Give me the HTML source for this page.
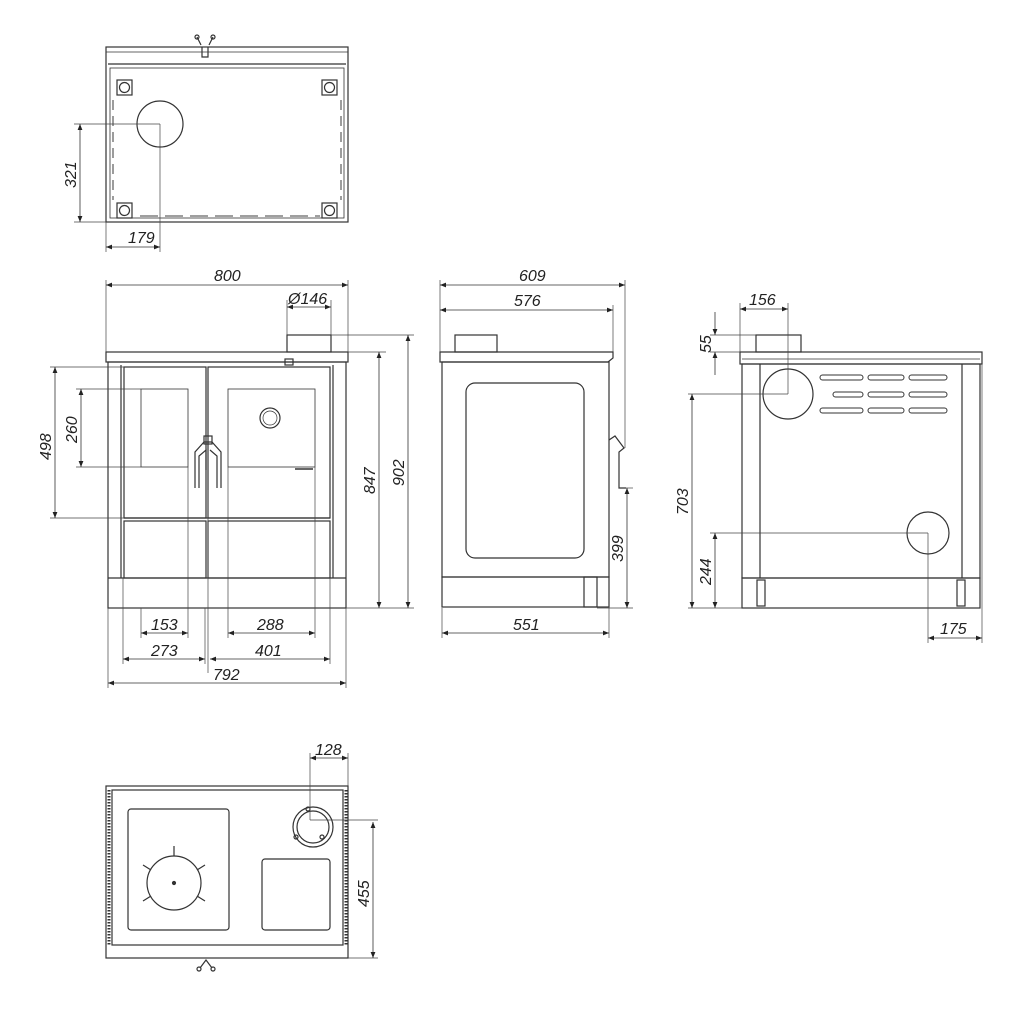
<!DOCTYPE html>
<html><head><meta charset="utf-8"><style>
html,body{margin:0;padding:0;background:#fff}
svg{display:block}
text{font-family:"Liberation Sans",sans-serif;font-style:italic;font-size:16px;fill:#222}
</style></head><body>
<svg width="1024" height="1013" viewBox="0 0 1024 1013" xmlns="http://www.w3.org/2000/svg">
<defs>
<marker id="a" viewBox="0 0 10 10" refX="10" refY="5" markerWidth="9" markerHeight="6" orient="auto-start-reverse" markerUnits="userSpaceOnUse"><path d="M0,1 L10,5 L0,9z" fill="#222"/></marker>
</defs>
<g fill="none" stroke="#333" stroke-width="1.2">
<!-- ===== TOP VIEW (upper) ===== -->
<rect x="106" y="47" width="242" height="175"/>
<line x1="106" y1="52" x2="348" y2="52" stroke-width="0.8"/>
<line x1="108" y1="64" x2="346" y2="64"/>
<rect x="110" y="68" width="234" height="150" stroke-width="0.8"/>
<line x1="113" y1="100" x2="113" y2="200" stroke-width="1.3" stroke="#666" stroke-dasharray="10 6"/>
<line x1="341" y1="100" x2="341" y2="200" stroke-width="1.3" stroke="#666" stroke-dasharray="10 6"/>
<line x1="140" y1="216" x2="320" y2="216" stroke-width="1.3" stroke="#666" stroke-dasharray="18 7"/>
<rect x="117" y="80" width="15" height="15"/><circle cx="124.5" cy="87.5" r="5"/>
<rect x="322" y="80" width="15" height="15"/><circle cx="329.5" cy="87.5" r="5"/>
<rect x="117" y="203" width="15" height="15"/><circle cx="124.5" cy="210.5" r="5"/>
<rect x="322" y="203" width="15" height="15"/><circle cx="329.5" cy="210.5" r="5"/>
<circle cx="160" cy="124" r="23"/>
<path d="M201,45 L197,37 M209,45 L213,37" /><circle cx="197" cy="37" r="2"/><circle cx="213" cy="37" r="2"/>
<path d="M202,47 v10 h6 v-10"/>
<g stroke-width="0.7" stroke="#444">
<line x1="74" y1="124" x2="160" y2="124"/><line x1="74" y1="222" x2="106" y2="222"/>
<line x1="160" y1="124" x2="160" y2="252"/><line x1="106" y1="222" x2="106" y2="252"/>
</g>
<line x1="80" y1="124" x2="80" y2="222" marker-start="url(#a)" marker-end="url(#a)" stroke-width="0.8"/>
<line x1="106" y1="247" x2="160" y2="247" marker-start="url(#a)" marker-end="url(#a)" stroke-width="0.8"/>

<!-- ===== FRONT VIEW ===== -->
<rect x="287" y="335" width="44" height="17"/>
<rect x="106" y="352" width="242" height="10"/>
<rect x="108" y="362" width="238" height="246"/>
<line x1="108" y1="578" x2="346" y2="578"/>
<line x1="121" y1="365" x2="121" y2="578"/><line x1="333" y1="365" x2="333" y2="578"/>
<rect x="124" y="367" width="82" height="151"/>
<rect x="208" y="367" width="122" height="151"/>
<rect x="141" y="389" width="47" height="78" stroke-width="0.8"/>
<rect x="228" y="389" width="87" height="78" stroke-width="0.8"/>
<circle cx="270" cy="418" r="10"/><circle cx="270" cy="418" r="7" stroke-width="0.7"/>
<rect x="124" y="521" width="82" height="57"/>
<rect x="208" y="521" width="122" height="57"/>
<line x1="124" y1="518" x2="330" y2="518"/>
<path d="M195,488 V452 L204,442 H212 L221,452 V488 M199,488 V456 L206,450 V470 M217,488 V456 L210,450"/>
<rect x="204" y="436" width="8" height="8"/>
<rect x="285" y="359" width="8" height="6"/>
<line x1="295" y1="469" x2="313" y2="469" stroke-width="1.5"/>
<g stroke-width="0.7" stroke="#444">
<line x1="106" y1="280" x2="106" y2="352"/><line x1="348" y1="280" x2="348" y2="352"/>
<line x1="287" y1="300" x2="287" y2="335"/><line x1="331" y1="300" x2="331" y2="335"/>
<line x1="331" y1="335" x2="414" y2="335"/><line x1="348" y1="352" x2="386" y2="352"/><line x1="346" y1="608" x2="414" y2="608"/>
<line x1="50" y1="367" x2="124" y2="367"/><line x1="50" y1="518" x2="124" y2="518"/>
<line x1="76" y1="389" x2="141" y2="389"/><line x1="76" y1="467" x2="141" y2="467"/>
<line x1="141" y1="608" x2="141" y2="638"/><line x1="188" y1="467" x2="188" y2="638"/>
<line x1="228" y1="467" x2="228" y2="638"/><line x1="315" y1="467" x2="315" y2="638"/>
<line x1="123" y1="578" x2="123" y2="664"/><line x1="205" y1="608" x2="205" y2="664"/>
<line x1="208" y1="490" x2="208" y2="673"/><line x1="330" y1="578" x2="330" y2="664"/>
<line x1="108" y1="608" x2="108" y2="688"/><line x1="346" y1="608" x2="346" y2="688"/>
</g>
<g stroke-width="0.8">
<line x1="106" y1="285" x2="348" y2="285" marker-start="url(#a)" marker-end="url(#a)"/>
<line x1="287" y1="307" x2="331" y2="307" marker-start="url(#a)" marker-end="url(#a)"/>
<line x1="55" y1="367" x2="55" y2="518" marker-start="url(#a)" marker-end="url(#a)"/>
<line x1="81" y1="389" x2="81" y2="467" marker-start="url(#a)" marker-end="url(#a)"/>
<line x1="379" y1="352" x2="379" y2="608" marker-start="url(#a)" marker-end="url(#a)"/>
<line x1="408" y1="335" x2="408" y2="608" marker-start="url(#a)" marker-end="url(#a)"/>
<line x1="141" y1="633" x2="188" y2="633" marker-start="url(#a)" marker-end="url(#a)"/>
<line x1="228" y1="633" x2="315" y2="633" marker-start="url(#a)" marker-end="url(#a)"/>
<line x1="123" y1="659" x2="205" y2="659" marker-start="url(#a)" marker-end="url(#a)"/>
<line x1="210" y1="659" x2="330" y2="659" marker-start="url(#a)" marker-end="url(#a)"/>
<line x1="108" y1="683" x2="346" y2="683" marker-start="url(#a)" marker-end="url(#a)"/>
</g>

<!-- ===== SIDE VIEW ===== -->
<rect x="455" y="335" width="42" height="17"/>
<path d="M440,352 H613 V358 L608,362 H440 Z"/>
<rect x="442" y="362" width="167" height="215"/>
<rect x="466" y="383" width="118" height="175" rx="9"/>
<rect x="442" y="577" width="167" height="30"/>
<rect x="584" y="577" width="13" height="30"/>
<path d="M609,440 L615,436 L624,448 L619,452 V488 H626"/>
<g stroke-width="0.7" stroke="#444">
<line x1="440" y1="280" x2="440" y2="352"/><line x1="625" y1="280" x2="625" y2="448"/>
<line x1="613" y1="305" x2="613" y2="352"/>
<line x1="626" y1="488" x2="633" y2="488"/><line x1="597" y1="608" x2="633" y2="608"/>
<line x1="442" y1="608" x2="442" y2="638"/><line x1="609" y1="608" x2="609" y2="638"/>
</g>
<g stroke-width="0.8">
<line x1="440" y1="285" x2="625" y2="285" marker-start="url(#a)" marker-end="url(#a)"/>
<line x1="440" y1="310" x2="613" y2="310" marker-start="url(#a)" marker-end="url(#a)"/>
<line x1="627" y1="488" x2="627" y2="608" marker-start="url(#a)" marker-end="url(#a)"/>
<line x1="442" y1="633" x2="609" y2="633" marker-start="url(#a)" marker-end="url(#a)"/>
</g>

<!-- ===== BACK VIEW ===== -->
<rect x="756" y="335" width="45" height="17"/>
<rect x="740" y="352" width="242" height="12"/>
<line x1="742" y1="359" x2="980" y2="359" stroke-width="0.7"/>
<rect x="742" y="364" width="238" height="214"/>
<line x1="760" y1="364" x2="760" y2="578"/><line x1="962" y1="364" x2="962" y2="578"/>
<rect x="742" y="578" width="238" height="30"/>
<rect x="757" y="580" width="8" height="26"/><rect x="957" y="580" width="8" height="26"/>
<circle cx="788" cy="394" r="25"/>
<circle cx="928" cy="533" r="21"/>
<g stroke-width="1">
<rect x="820" y="375" width="43" height="5" rx="2.5"/><rect x="868" y="375" width="36" height="5" rx="2.5"/><rect x="909" y="375" width="38" height="5" rx="2.5"/>
<rect x="833" y="392" width="30" height="5" rx="2.5"/><rect x="868" y="392" width="36" height="5" rx="2.5"/><rect x="909" y="392" width="38" height="5" rx="2.5"/>
<rect x="820" y="408" width="43" height="5" rx="2.5"/><rect x="868" y="408" width="36" height="5" rx="2.5"/><rect x="909" y="408" width="38" height="5" rx="2.5"/>
</g>
<g stroke-width="0.7" stroke="#444">
<line x1="740" y1="303" x2="740" y2="352"/><line x1="788" y1="303" x2="788" y2="394"/>
<line x1="688" y1="394" x2="788" y2="394"/><line x1="710" y1="335" x2="756" y2="335"/><line x1="710" y1="352" x2="740" y2="352"/>
<line x1="710" y1="533" x2="928" y2="533"/><line x1="688" y1="608" x2="742" y2="608"/>
<line x1="928" y1="533" x2="928" y2="643"/><line x1="982" y1="364" x2="982" y2="643"/>
</g>
<g stroke-width="0.8">
<line x1="740" y1="309" x2="788" y2="309" marker-start="url(#a)" marker-end="url(#a)"/>
<line x1="715" y1="312" x2="715" y2="335" marker-end="url(#a)"/>
<line x1="715" y1="375" x2="715" y2="352" marker-end="url(#a)"/>
<line x1="692" y1="394" x2="692" y2="608" marker-start="url(#a)" marker-end="url(#a)"/>
<line x1="715" y1="533" x2="715" y2="608" marker-start="url(#a)" marker-end="url(#a)"/>
<line x1="928" y1="638" x2="982" y2="638" marker-start="url(#a)" marker-end="url(#a)"/>
</g>

<!-- ===== TOP VIEW (lower) ===== -->
<rect x="106" y="786" width="242" height="172"/>
<rect x="112" y="790" width="231" height="155"/>
<line x1="109" y1="790" x2="109" y2="945" stroke-width="3" stroke-dasharray="1.5 1.5"/>
<line x1="346" y1="790" x2="346" y2="945" stroke-width="3" stroke-dasharray="1.5 1.5"/>
<rect x="128" y="809" width="101" height="121" rx="3"/>
<circle cx="174" cy="883" r="27"/>
<circle cx="174" cy="883" r="1.5" fill="#333"/>
<path d="M174,856 v-10 M197,870 l8,-5 M197,896 l8,5 M151,870 l-8,-5 M151,896 l-8,5"/>
<rect x="262" y="859" width="68" height="71" rx="3"/>
<circle cx="313" cy="827" r="20"/><circle cx="313" cy="827" r="16"/>
<circle cx="308" cy="809" r="2"/><circle cx="296" cy="837" r="2"/><circle cx="322" cy="837" r="2"/>
<path d="M200,968 L206,960 L212,968"/><circle cx="199" cy="969" r="2"/><circle cx="213" cy="969" r="2"/>
<g stroke-width="0.7" stroke="#444">
<line x1="310" y1="753" x2="310" y2="820"/><line x1="348" y1="753" x2="348" y2="786"/>
<line x1="310" y1="820" x2="378" y2="820"/>
<line x1="348" y1="958" x2="378" y2="958"/>
</g>
<line x1="310" y1="758" x2="348" y2="758" marker-start="url(#a)" marker-end="url(#a)" stroke-width="0.8"/>
<line x1="373" y1="822" x2="373" y2="958" marker-start="url(#a)" marker-end="url(#a)" stroke-width="0.8"/>
</g>

<!-- ===== TEXT ===== -->
<text x="128" y="243">179</text>
<text transform="translate(76,188) rotate(-90)">321</text>
<text x="214" y="281">800</text>
<text x="288" y="304">Ø146</text>
<text transform="translate(51,460) rotate(-90)">498</text>
<text transform="translate(77,443) rotate(-90)">260</text>
<text transform="translate(375,494) rotate(-90)">847</text>
<text transform="translate(404,486) rotate(-90)">902</text>
<text x="151" y="630">153</text>
<text x="257" y="630">288</text>
<text x="151" y="656">273</text>
<text x="255" y="656">401</text>
<text x="213" y="680">792</text>
<text x="519" y="281">609</text>
<text x="514" y="306">576</text>
<text transform="translate(623,562) rotate(-90)">399</text>
<text x="513" y="630">551</text>
<text x="749" y="305">156</text>
<text transform="translate(711,353) rotate(-90)">55</text>
<text transform="translate(688,515) rotate(-90)">703</text>
<text transform="translate(711,585) rotate(-90)">244</text>
<text x="940" y="634">175</text>
<text x="315" y="755">128</text>
<text transform="translate(369,907) rotate(-90)">455</text>
</svg>
</body></html>
